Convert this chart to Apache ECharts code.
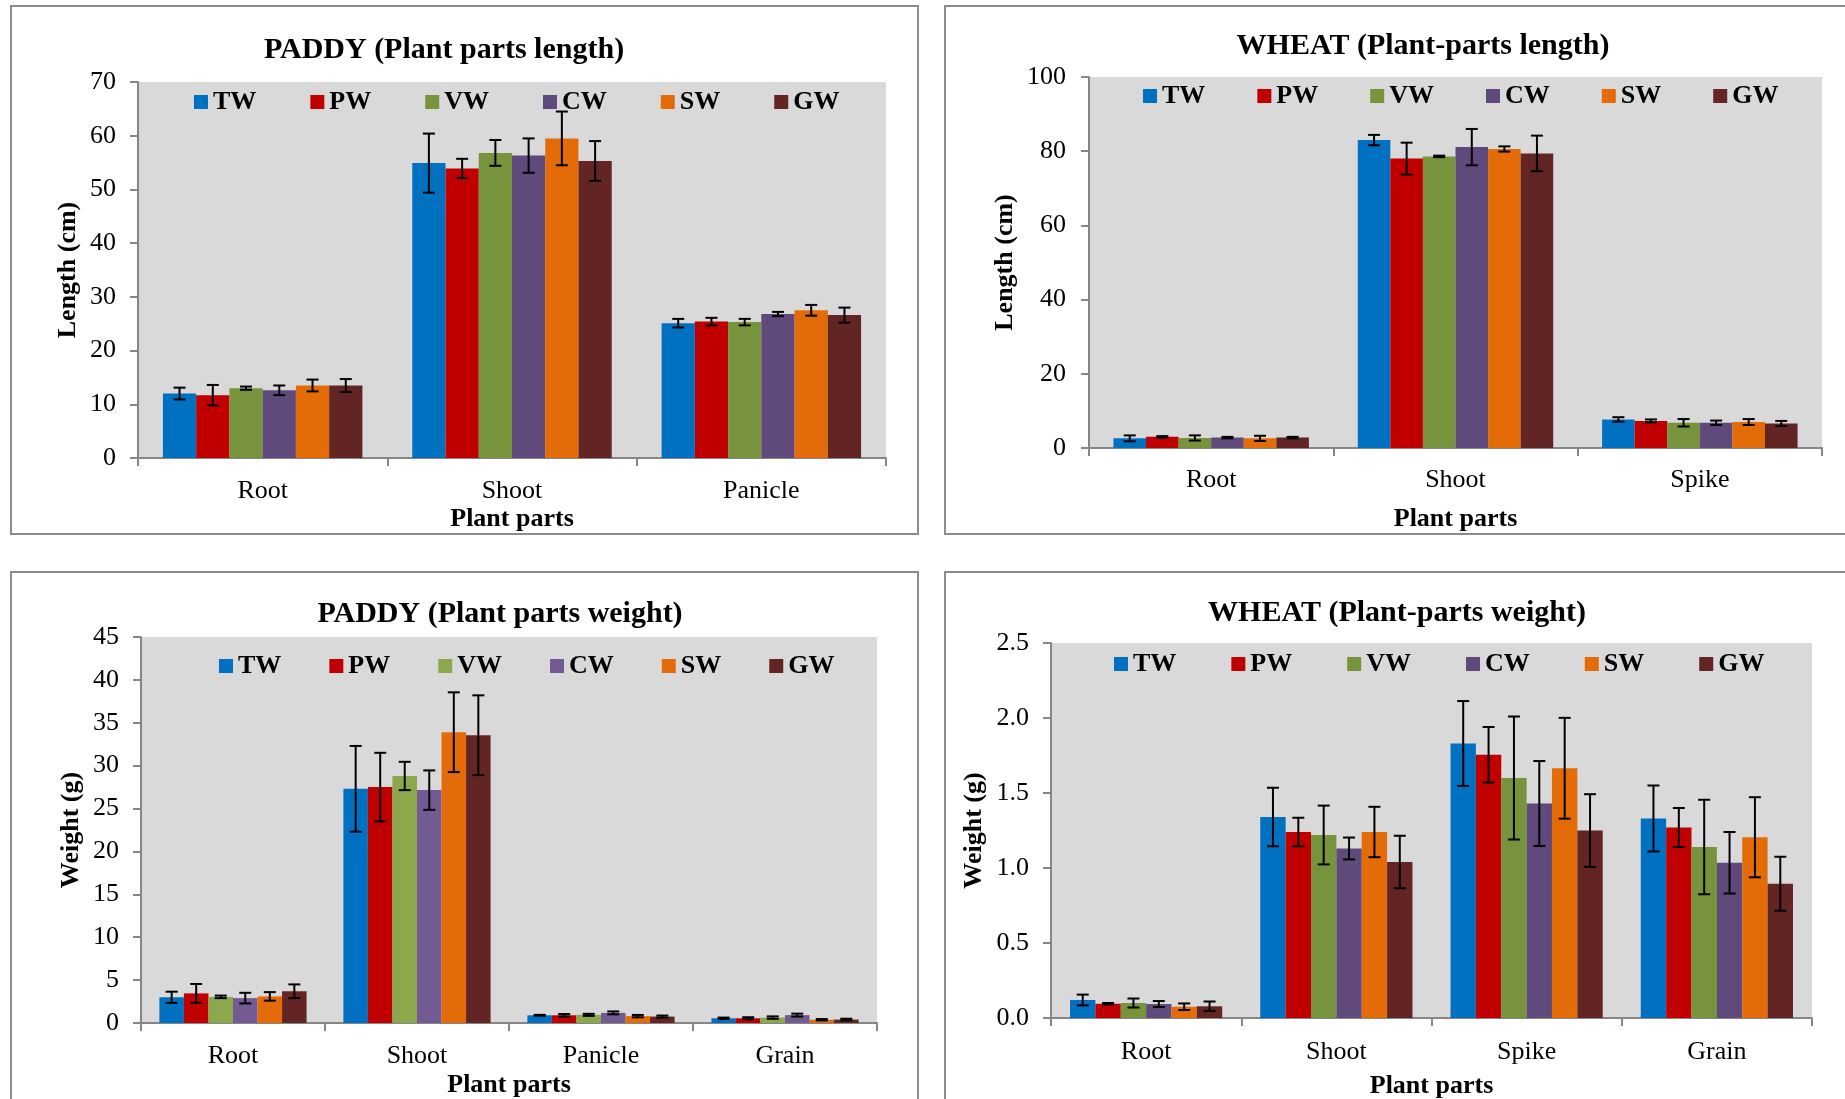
<!DOCTYPE html>
<html>
<head>
<meta charset="utf-8">
<script src="https://cdn.jsdelivr.net/npm/echarts@6/dist/echarts.min.js"></script>
<style>
html,body{margin:0;padding:0;width:1845px;height:1099px;overflow:hidden;background:#fff;}
.panel{position:absolute;}
.frame{position:absolute;border:2px solid #8c8c8c;box-sizing:border-box;pointer-events:none;}
</style>
</head>
<body>
<div class="frame" style="left:10px;top:5px;width:909px;height:530px"></div>
<div class="frame" style="left:944px;top:5px;width:920px;height:530px"></div>
<div class="frame" style="left:10px;top:571px;width:909px;height:600px"></div>
<div class="frame" style="left:944px;top:571px;width:920px;height:600px"></div>
<div id="c1" class="panel" style="left:11px;top:6px;width:907px;height:528px"></div>
<div id="c2" class="panel" style="left:945px;top:6px;width:900px;height:528px"></div>
<div id="c3" class="panel" style="left:11px;top:572px;width:907px;height:527px"></div>
<div id="c4" class="panel" style="left:945px;top:572px;width:900px;height:527px"></div>
<script>
// ---------- DATA ----------
const seriesNames = ['TW', 'PW', 'VW', 'CW', 'SW', 'GW'];

// PADDY (Plant parts length)
const paddyLenCats = ['Root', 'Shoot', 'Panicle'];
const paddyLenTW = [12.0, 54.9, 25.1];  const paddyLenTWErr = [1.1, 5.5, 0.8];
const paddyLenPW = [11.7, 53.9, 25.4];  const paddyLenPWErr = [1.9, 1.8, 0.7];
const paddyLenVW = [13.0, 56.8, 25.3];  const paddyLenVWErr = [0.3, 2.4, 0.6];
const paddyLenCW = [12.6, 56.3, 26.8];  const paddyLenCWErr = [0.9, 3.2, 0.4];
const paddyLenSW = [13.5, 59.5, 27.5];  const paddyLenSWErr = [1.1, 5.0, 1.0];
const paddyLenGW = [13.5, 55.3, 26.6];  const paddyLenGWErr = [1.2, 3.7, 1.4];
const paddyLenTicks = [0, 70, 10];

// WHEAT (Plant-parts length)
const wheatLenCats = ['Root', 'Shoot', 'Spike'];
const wheatLenTW = [2.6, 83.0, 7.7];  const wheatLenTWErr = [0.8, 1.4, 0.6];
const wheatLenPW = [3.0, 78.0, 7.3];  const wheatLenPWErr = [0.2, 4.3, 0.4];
const wheatLenVW = [2.7, 78.6, 6.8];  const wheatLenVWErr = [0.7, 0.2, 1.0];
const wheatLenCW = [2.8, 81.1, 6.8];  const wheatLenCWErr = [0.2, 4.9, 0.6];
const wheatLenSW = [2.6, 80.6, 7.0];  const wheatLenSWErr = [0.7, 0.7, 0.8];
const wheatLenGW = [2.8, 79.4, 6.6];  const wheatLenGWErr = [0.2, 4.8, 0.7];
const wheatLenTicks = [0, 100, 20];

// PADDY (Plant parts weight)
const paddyWtCats = ['Root', 'Shoot', 'Panicle', 'Grain'];
const paddyWtTW = [3.0, 27.3, 0.9, 0.55];   const paddyWtTWErr = [0.65, 5.0, 0.05, 0.08];
const paddyWtPW = [3.45, 27.5, 0.9, 0.55];  const paddyWtPWErr = [1.1, 4.0, 0.15, 0.12];
const paddyWtVW = [3.05, 28.8, 0.95, 0.63]; const paddyWtVWErr = [0.15, 1.65, 0.12, 0.14];
const paddyWtCW = [2.9, 27.15, 1.18, 0.92]; const paddyWtCWErr = [0.62, 2.3, 0.17, 0.17];
const paddyWtSW = [3.1, 33.9, 0.8, 0.38];   const paddyWtSWErr = [0.5, 4.65, 0.14, 0.08];
const paddyWtGW = [3.7, 33.55, 0.75, 0.4];  const paddyWtGWErr = [0.8, 4.65, 0.12, 0.1];
const paddyWtTicks = [0, 45, 5];

// WHEAT (Plant-parts weight)
const wheatWtCats = ['Root', 'Shoot', 'Spike', 'Grain'];
const wheatWtTW = [0.12, 1.34, 1.83, 1.33];    const wheatWtTWErr = [0.036, 0.195, 0.283, 0.22];
const wheatWtPW = [0.095, 1.24, 1.755, 1.27];  const wheatWtPWErr = [0.005, 0.095, 0.185, 0.13];
const wheatWtVW = [0.10, 1.22, 1.60, 1.14];    const wheatWtVWErr = [0.03, 0.196, 0.41, 0.315];
const wheatWtCW = [0.093, 1.13, 1.43, 1.035];  const wheatWtCWErr = [0.02, 0.073, 0.283, 0.205];
const wheatWtSW = [0.075, 1.24, 1.665, 1.205]; const wheatWtSWErr = [0.022, 0.168, 0.336, 0.267];
const wheatWtGW = [0.078, 1.04, 1.25, 0.895];  const wheatWtGWErr = [0.032, 0.175, 0.242, 0.18];
const wheatWtTicks = [0, 2.5, 0.5];

// ---------- STYLE ----------
const FONT = "'Liberation Serif','Times New Roman',serif";
const colorsA = ['#0070C0', '#C00000', '#77933C', '#604A7B', '#E36C09', '#632523'];
const colorsB = ['#0070C0', '#C00000', '#8CA84C', '#735A92', '#E36C09', '#632523'];
const AXIS_COLOR = '#868686';

function errRender(pos, n) {
  return function (params, api) {
    const ci = api.value(0);
    const lo = api.coord([ci, api.value(1)]);
    const hi = api.coord([ci, api.value(2)]);
    const band = api.size([1, 0])[0];
    const bw = band * 0.8 / n;
    const x = lo[0] + (pos - (n - 1) / 2) * bw;
    const cap = 6;
    const st = { stroke: '#000', lineWidth: 2 };
    return {
      type: 'group',
      children: [
        { type: 'line', shape: { x1: x, y1: hi[1], x2: x, y2: lo[1] }, style: st },
        { type: 'line', shape: { x1: x - cap, y1: hi[1], x2: x + cap, y2: hi[1] }, style: st },
        { type: 'line', shape: { x1: x - cap, y1: lo[1], x2: x + cap, y2: lo[1] }, style: st }
      ]
    };
  };
}

function build(cfg) {
  const series = [];
  cfg.means.forEach((m, i) => {
    series.push({
      name: seriesNames[i], type: 'bar', data: m,
      barGap: 0, barCategoryGap: '20%',
      itemStyle: { color: cfg.colors[i] }, z: 2
    });
  });
  cfg.means.forEach((m, i) => {
    series.push({
      name: seriesNames[i] + '_err', type: 'custom',
      renderItem: errRender(i, cfg.means.length),
      data: m.map((v, k) => [k, v - cfg.errs[i][k], v + cfg.errs[i][k]]),
      z: 5, silent: true
    });
  });
  return {
    animation: false,
    textStyle: { fontFamily: FONT },
    graphic: [{
      type: 'text', x: cfg.title[1], y: cfg.title[2],
      style: { text: cfg.title[0], font: 'bold 30px ' + FONT, fill: '#000', textAlign: 'center', textVerticalAlign: 'middle' }
    }],
    legend: {
      data: seriesNames, icon: 'rect', itemWidth: 14, itemHeight: 14,
      left: cfg.legend[0], top: cfg.legend[1], itemGap: cfg.legend[2], padding: 0,
      textStyle: { fontFamily: FONT, fontSize: 26, fontWeight: 'bold', color: '#000', lineHeight: 26 },
      selectedMode: false
    },
    grid: {
      left: cfg.grid[0], top: cfg.grid[1], width: cfg.grid[2], height: cfg.grid[3],
      show: true, backgroundColor: '#D9D9D9', borderWidth: 0,
      containLabel: false, outerBoundsMode: 'none'
    },
    xAxis: {
      type: 'category', data: cfg.cats,
      name: 'Plant parts', nameLocation: 'middle', nameGap: cfg.xName[1], nameMoveOverlap: false,
      nameTextStyle: { fontFamily: FONT, fontSize: 26, fontWeight: 'bold', color: '#000', lineHeight: 26 },
      axisLine: { lineStyle: { color: AXIS_COLOR, width: 2 } },
      axisTick: { show: true, length: 8, lineStyle: { color: AXIS_COLOR, width: 2 } },
      axisLabel: { fontFamily: FONT, fontSize: 26, color: '#000', margin: cfg.xName[0], lineHeight: 26 }
    },
    yAxis: {
      type: 'value', min: cfg.ticks[0], max: cfg.ticks[1], interval: cfg.ticks[2],
      name: cfg.yName[0], nameLocation: 'middle', nameGap: cfg.yName[1], nameMoveOverlap: false,
      nameTextStyle: { fontFamily: FONT, fontSize: 26, fontWeight: 'bold', color: '#000', lineHeight: 26 },
      axisLine: { show: true, lineStyle: { color: AXIS_COLOR, width: 2 } },
      axisTick: { show: true, length: 8, lineStyle: { color: AXIS_COLOR, width: 2 } },
      splitLine: { show: false },
      axisLabel: {
        fontFamily: FONT, fontSize: 26, color: '#000', margin: cfg.yLabelMargin,
        formatter: cfg.fmt || (v => String(v))
      }
    },
    series: series
  };
}

const panels = [
  {
    id: 'c1', cats: paddyLenCats, colors: colorsA,
    means: [paddyLenTW, paddyLenPW, paddyLenVW, paddyLenCW, paddyLenSW, paddyLenGW],
    errs: [paddyLenTWErr, paddyLenPWErr, paddyLenVWErr, paddyLenCWErr, paddyLenSWErr, paddyLenGWErr],
    ticks: paddyLenTicks,
    title: ['PADDY (Plant parts length)', 433, 44],
    legend: [183, 83, 54],
    grid: [127, 76, 748, 376],
    xName: [20, 48], yName: ['Length (cm)', 57], yLabelMargin: 22
  },
  {
    id: 'c2', cats: wheatLenCats, colors: colorsA,
    means: [wheatLenTW, wheatLenPW, wheatLenVW, wheatLenCW, wheatLenSW, wheatLenGW],
    errs: [wheatLenTWErr, wheatLenPWErr, wheatLenVWErr, wheatLenCWErr, wheatLenSWErr, wheatLenGWErr],
    ticks: wheatLenTicks,
    title: ['WHEAT (Plant-parts length)', 478, 40],
    legend: [198, 77, 52],
    grid: [144, 71, 733, 371],
    xName: [19, 58], yName: ['Length (cm)', 71], yLabelMargin: 23
  },
  {
    id: 'c3', cats: paddyWtCats, colors: colorsB,
    means: [paddyWtTW, paddyWtPW, paddyWtVW, paddyWtCW, paddyWtSW, paddyWtGW],
    errs: [paddyWtTWErr, paddyWtPWErr, paddyWtVWErr, paddyWtCWErr, paddyWtSWErr, paddyWtGWErr],
    ticks: paddyWtTicks,
    title: ['PADDY (Plant parts weight)', 489, 42],
    legend: [208, 81, 48],
    grid: [130, 65, 736, 386],
    xName: [20, 49], yName: ['Weight (g)', 57], yLabelMargin: 22
  },
  {
    id: 'c4', cats: wheatWtCats, colors: colorsA,
    means: [wheatWtTW, wheatWtPW, wheatWtVW, wheatWtCW, wheatWtSW, wheatWtGW],
    errs: [wheatWtTWErr, wheatWtPWErr, wheatWtVWErr, wheatWtCWErr, wheatWtSWErr, wheatWtGWErr],
    ticks: wheatWtTicks,
    title: ['WHEAT (Plant-parts weight)', 452, 41],
    legend: [169, 79, 55],
    grid: [106, 71, 761, 375],
    xName: [21, 55], yName: ['Weight (g)', 64], yLabelMargin: 22,
    fmt: v => v.toFixed(1)
  }
];

panels.forEach(p => {
  const chart = echarts.init(document.getElementById(p.id), null, { renderer: 'canvas' });
  chart.setOption(build(p));
});
</script>
</body>
</html>
